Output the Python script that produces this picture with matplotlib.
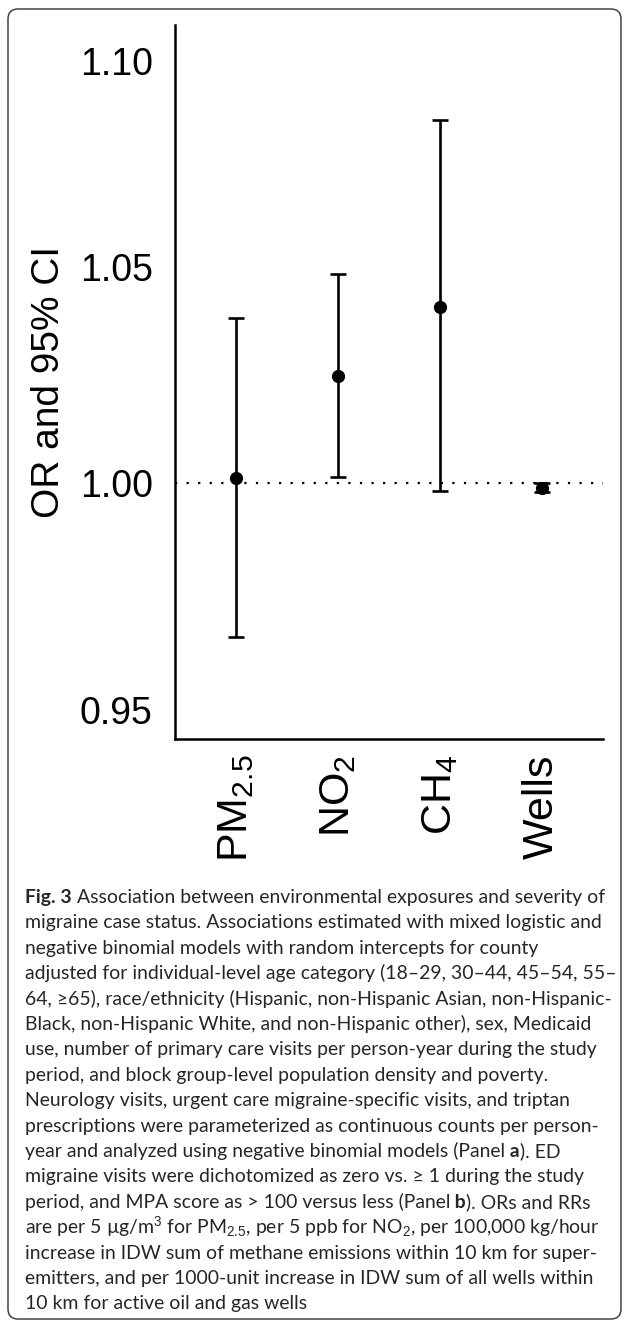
import matplotlib
matplotlib.use("Agg")
import matplotlib.pyplot as plt
from matplotlib.patches import FancyBboxPatch
from matplotlib.transforms import IdentityTransform
from matplotlib.ticker import FixedLocator, FixedFormatter, NullLocator, NullFormatter

# ---------------- data ----------------
categories = [r"PM$_{2.5}$", r"NO$_2$", r"CH$_4$", "Wells"]
or_vals = [1.0012, 1.0245, 1.0406, 0.9989]
ci_low = [0.9658, 1.0014, 0.9982, 0.9979]
ci_high = [1.0380, 1.0484, 1.0855, 0.9999]
y_ticks = [0.95, 1.00, 1.05, 1.10]
y_ticklabels = ["0.95", "1.00", "1.05", "1.10"]
y_label = "OR and 95% CI"

caption_lines = [
    [("Fig. 3", "bold"), (" Association between environmental exposures and severity of", "normal")],
    [("migraine case status. Associations estimated with mixed logistic and", "normal")],
    [("negative binomial models with random intercepts for county", "normal")],
    [("adjusted for individual-level age category (18–29, 30–44, 45–54, 55–", "normal")],
    [("64, ≥65), race/ethnicity (Hispanic, non-Hispanic Asian, non-Hispanic-", "normal")],
    [("Black, non-Hispanic White, and non-Hispanic other), sex, Medicaid", "normal")],
    [("use, number of primary care visits per person-year during the study", "normal")],
    [("period, and block group-level population density and poverty.", "normal")],
    [("Neurology visits, urgent care migraine-specific visits, and triptan", "normal")],
    [("prescriptions were parameterized as continuous counts per person-", "normal")],
    [("year and analyzed using negative binomial models (Panel", "normal"), (" a", "bold"), ("). ED", "normal")],
    [("migraine visits were dichotomized as zero vs. ≥ 1 during the study", "normal")],
    [("period, and MPA score as > 100 versus less (Panel", "normal"), (" b", "bold"), ("). ORs and RRs", "normal")],
    [("are per 5 µg/m$^3$ for PM$_{2.5}$, per 5 ppb for NO$_2$, per 100,000 kg/hour", "normal")],
    [("increase in IDW sum of methane emissions within 10 km for super-", "normal")],
    [("emitters, and per 1000-unit increase in IDW sum of all wells within", "normal")],
    [("10 km for active oil and gas wells", "normal")],
]

# ---------------- style ----------------
plt.rcParams["font.family"] = ["Liberation Sans", "DejaVu Sans"]
plt.rcParams["mathtext.fontset"] = "custom"
plt.rcParams["mathtext.rm"] = "Liberation Sans"
plt.rcParams["mathtext.it"] = "Liberation Sans:italic"
plt.rcParams["mathtext.bf"] = "Liberation Sans:bold"

W, H = 627, 1326
DPI = 100
fig = plt.figure(figsize=(W / DPI, H / DPI), dpi=DPI)
fig.patch.set_facecolor("white")

def fx(px):
    return px / W

def fy(py):
    return 1 - py / H

# axes
ax_left, ax_right, ax_top, ax_bottom = 175, 603, 25, 739
ax = fig.add_axes([fx(ax_left), fy(ax_bottom), fx(ax_right - ax_left), (ax_bottom - ax_top) / H])
ax.set_facecolor("white")

x = list(range(1, len(categories) + 1))
yerr = [[o - l for o, l in zip(or_vals, ci_low)], [h - o for o, h in zip(or_vals, ci_high)]]
ax.axhline(1.0, color="black", lw=1.6, linestyle=(0, (1, 4.2)), zorder=1)
ax.errorbar(x, or_vals, yerr=yerr, fmt="o", color="black", ms=8.5,
            elinewidth=1.9, capsize=5.5, capthick=1.9, zorder=3)

ax.set_yscale("log")
ax.set_ylim(0.9438, 1.1090)
ax.set_xlim(0.4, 4.6)
ax.yaxis.set_major_locator(FixedLocator(y_ticks))
ax.yaxis.set_major_formatter(FixedFormatter(y_ticklabels))
ax.yaxis.set_minor_locator(NullLocator())
ax.yaxis.set_minor_formatter(NullFormatter())
ax.set_xticks(x)
ax.set_xticklabels(categories, rotation=90, ha="center", va="top")

ax.tick_params(axis="y", length=0, pad=16, labelsize=27, labelcolor="black")
ax.tick_params(axis="x", length=0, pad=11.5, labelsize=31, labelcolor="black")

for s in ["top", "right"]:
    ax.spines[s].set_visible(False)
for s in ["left", "bottom"]:
    ax.spines[s].set_linewidth(1.8)
    ax.spines[s].set_color("black")

fig.text(fx(49), fy(382), y_label, rotation=90, ha="center", va="center",
         fontsize=28, color="black")

# ---------------- caption ----------------
renderer = fig.canvas.get_renderer()
cap_family = ["Lato", "DejaVu Sans"]
cap_color = "#262626"

def text_width(s, weight, size):
    t = fig.text(0, 0, s, fontsize=size, fontweight=weight, family=cap_family)
    w = t.get_window_extent(renderer).width
    t.remove()
    return w

base_size = 14
w1 = sum(text_width(s, wt, base_size) for s, wt in caption_lines[0])
cap_size = base_size * 580 / w1

x0 = 25
y_first = 903
line_gap = 25.4
for i, runs in enumerate(caption_lines):
    xp = x0
    yb = y_first + i * line_gap
    for s, wt in runs:
        t = fig.text(fx(xp), fy(yb), s, fontsize=cap_size, fontweight=wt,
                     family=cap_family, color=cap_color, ha="left", va="baseline")
        xp += t.get_window_extent(renderer).width

# frame
frame = FancyBboxPatch((8, H - 1319), 613, 1310,
                       boxstyle="round,pad=0,rounding_size=10",
                       transform=IdentityTransform(), fill=False,
                       edgecolor="#444444", lw=1.1)
fig.patches.append(frame)

fig.savefig("out.png", dpi=DPI, facecolor="white")
